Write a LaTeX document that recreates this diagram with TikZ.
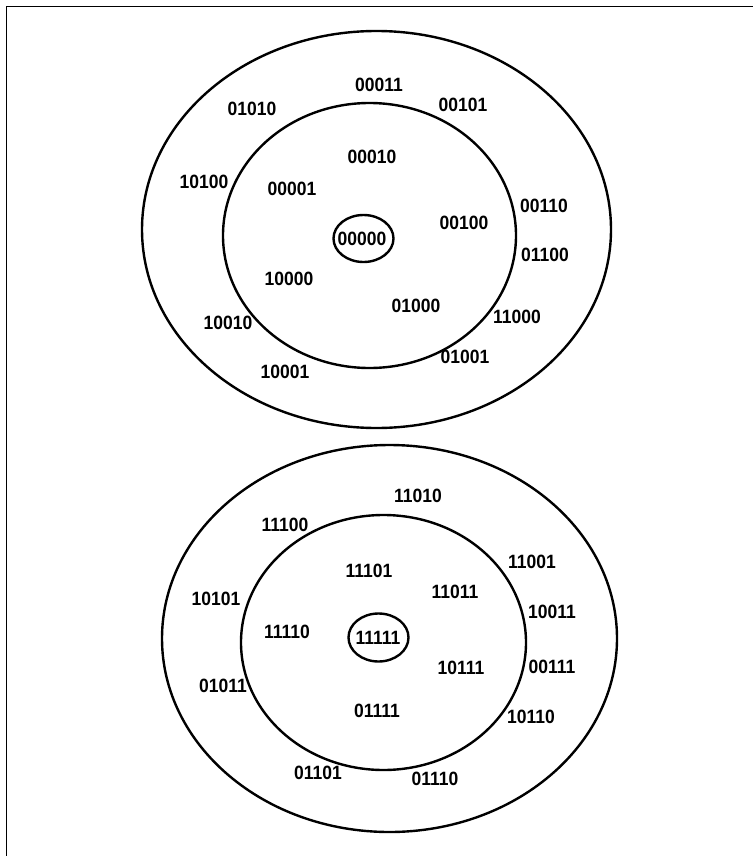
\documentclass[tikz,border=0pt]{standalone}
\usepackage{fontspec}
\setmainfont{Liberation Sans}
\begin{document}
\begin{tikzpicture}[x=1pt,y=-1pt,
  ring/.style={draw=black,line width=2.4pt},
  lab/.style={inner sep=0pt,font=\bfseries\fontsize{17.5}{18}\selectfont},
  frameline/.style={draw=black,line width=1.3pt}]
\useasboundingbox (0,0) rectangle (753,856);
% frame (top and left edges only)
\coordinate (fbl) at (6.5,856);
\coordinate (ftl) at (6.5,6.5);
\coordinate (ftr) at (753,6.5);
\draw[frameline] (fbl) -- (ftl) -- (ftr);
% top target
\draw[ring] (376.5,229.5) ellipse [x radius=234.5pt, y radius=198.5pt];
\draw[ring] (369.5,235.5) ellipse [x radius=146.5pt, y radius=132.5pt];
\draw[ring] (363.5,238.5) ellipse [x radius=30pt, y radius=23.5pt];
\newcommand{\lbl}[3]{\node[lab] (#1) at (#2) {\scalebox{1}[1.1]{#3}};}
\lbl{t00011}{379,85}{00011}
\lbl{t01010}{252,109}{01010}
\lbl{t00101}{463,105}{00101}
\lbl{t10100}{204,182}{10100}
\lbl{t00010}{372,157}{00010}
\lbl{t00001}{292,189}{00001}
\lbl{t00110}{544,206}{00110}
\lbl{t00100}{464,223}{00100}
\lbl{t00000}{362,239}{00000}
\lbl{t01100}{545,255}{01100}
\lbl{t10000}{289,279}{10000}
\lbl{t01000}{416,306}{01000}
\lbl{t11000}{517,317}{11000}
\lbl{t10010}{228,323}{10010}
\lbl{t01001}{465,357}{01001}
\lbl{t10001}{285,372}{10001}
% bottom target
\draw[ring] (389.5,638.5) ellipse [x radius=227.5pt, y radius=193.5pt];
\draw[ring] (383.5,642.5) ellipse [x radius=142.5pt, y radius=127.5pt];
\draw[ring] (378.5,637.5) ellipse [x radius=30pt, y radius=24pt];
\lbl{b11010}{418,496}{11010}
\lbl{b11100}{285,525}{11100}
\lbl{b11001}{532,562}{11001}
\lbl{b11101}{369,571}{11101}
\lbl{b11011}{455,592}{11011}
\lbl{b10101}{216,599}{10101}
\lbl{b10011}{552,612}{10011}
\lbl{b11110}{287,632}{11110}
\lbl{b11111}{378,638}{11111}
\lbl{b10111}{461,668}{10111}
\lbl{b00111}{552,667}{00111}
\lbl{b01011}{223,686}{01011}
\lbl{b01111}{377,711}{01111}
\lbl{b10110}{531,717}{10110}
\lbl{b01101}{318,773}{01101}
\lbl{b01110}{435,779}{01110}
\end{tikzpicture}
\end{document}
